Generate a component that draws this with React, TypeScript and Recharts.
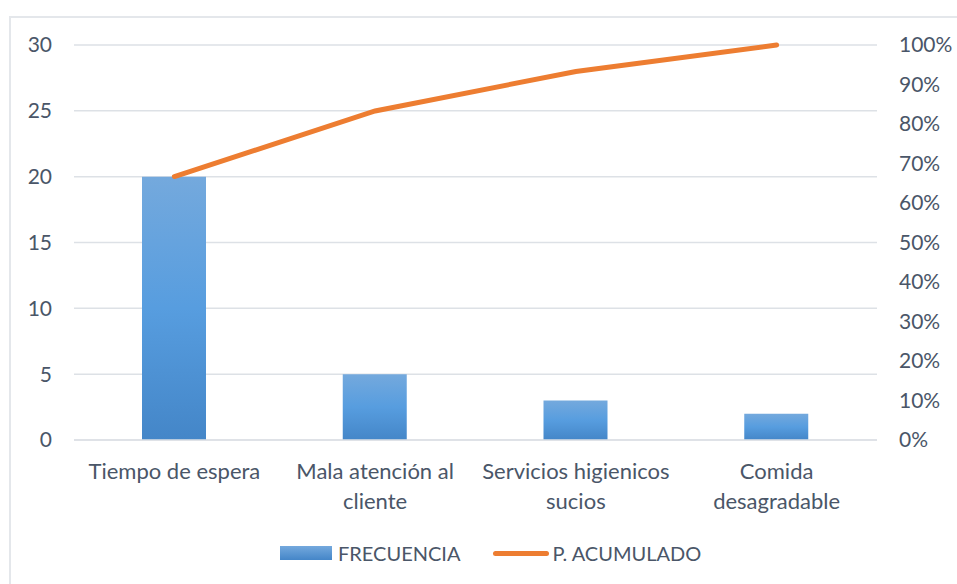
import React from "react";
import {
  ComposedChart,
  Bar,
  Line,
  XAxis,
  YAxis,
  CartesianGrid,
} from "recharts";

// Causas de insatisfacción (diagrama de Pareto)
const categories = [
  "Tiempo de espera",
  "Mala atención al cliente",
  "Servicios higienicos sucios",
  "Comida desagradable",
];

// Etiquetas tal como aparecen partidas en el eje X
const tickLines = [
  ["Tiempo de espera"],
  ["Mala atención al", "cliente"],
  ["Servicios higienicos", "sucios"],
  ["Comida", "desagradable"],
];

const frecuencia = [20, 5, 3, 2];
const acumulado = [66.7, 83.3, 93.3, 100];

const leftTicks = [0, 5, 10, 15, 20, 25, 30];
const rightTicks = [0, 10, 20, 30, 40, 50, 60, 70, 80, 90, 100];

const chartData = categories.map((name, i) => ({
  name,
  frecuencia: frecuencia[i],
  acumulado: acumulado[i],
}));

const FONT = "Lato, 'Open Sans', sans-serif";
const TEXT = "#4a5668";
const GRID = "#dde1e6";
const ORANGE = "#ed7d31";

const CategoryTick = (props: any) => {
  const { x, y, payload } = props;
  const lines = tickLines[payload.index] || [payload.value];
  return (
    <text
      x={x}
      y={y}
      textAnchor="middle"
      fill={TEXT}
      fontSize={22}
      fontFamily={FONT}
    >
      {lines.map((l: string, i: number) => (
        <tspan key={i} x={x} y={y + 31 + i * 30}>
          {l}
        </tspan>
      ))}
    </text>
  );
};

const App: React.FC = () => {
  return (
    <div
      style={{
        position: "relative",
        width: 957,
        height: 584,
        background: "#fff",
        overflow: "hidden",
        fontFamily: FONT,
      }}
    >
      <style>{`body{margin:0;overflow:hidden}`}</style>
      {/* borde del área del gráfico */}
      <div
        style={{
          position: "absolute",
          left: 9,
          top: 16,
          width: 1000,
          height: 700,
          border: `2px solid #e4e7eb`,
          boxSizing: "border-box",
        }}
      />
      <ComposedChart
        width={957}
        height={584}
        data={chartData}
        margin={{ top: 45, right: 0, bottom: 44, left: 0 }}
        style={{ position: "absolute", left: 0, top: 0 }}
      >
        <defs>
          <linearGradient id="barGrad" x1="0" y1="0" x2="0" y2="1">
            <stop offset="0%" stopColor="#74a9dd" />
            <stop offset="50%" stopColor="#579ddf" />
            <stop offset="100%" stopColor="#4486c8" />
          </linearGradient>
        </defs>
        <CartesianGrid
          yAxisId="left"
          vertical={false}
          stroke={GRID}
          strokeWidth={1.5}
        />
        <XAxis
          dataKey="name"
          height={100}
          axisLine={{ stroke: GRID, strokeWidth: 1.5 }}
          tickLine={false}
          tick={<CategoryTick />}
          interval={0}
        />
        <YAxis
          yAxisId="left"
          orientation="left"
          width={74}
          domain={[0, 30]}
          ticks={leftTicks}
          axisLine={false}
          tickLine={false}
          tickSize={0}
          tickMargin={22}
          tick={{ fill: TEXT, fontSize: 21, fontFamily: FONT }}
        />
        <YAxis
          yAxisId="right"
          orientation="right"
          width={80}
          domain={[0, 100]}
          ticks={rightTicks}
          axisLine={false}
          tickLine={false}
          tickSize={0}
          tickMargin={22}
          tickFormatter={(v) => `${v}%`}
          tick={{ fill: TEXT, fontSize: 21, fontFamily: FONT, textAnchor: "start" }}
        />
        <Bar
          yAxisId="left"
          dataKey="frecuencia"
          name="FRECUENCIA"
          fill="url(#barGrad)"
          barSize={64}
          isAnimationActive={false}
        />
        <Line
          yAxisId="right"
          dataKey="acumulado"
          name="P. ACUMULADO"
          type="linear"
          stroke={ORANGE}
          strokeWidth={5}
          strokeLinecap="round"
          dot={false}
          activeDot={false}
          isAnimationActive={false}
        />
      </ComposedChart>

      {/* leyenda */}
      <div
        style={{
          position: "absolute",
          top: 540,
          left: 280,
          display: "flex",
          alignItems: "center",
          fontSize: 20,
          color: TEXT,
          lineHeight: "26px",
        }}
      >
        <span
          style={{
            width: 52,
            height: 14,
            background: "linear-gradient(#74a9dd, #4486c8)",
            marginRight: 6,
          }}
        />
        <span style={{ marginRight: 33 }}>FRECUENCIA</span>
        <span
          style={{
            width: 56,
            height: 5,
            borderRadius: 3,
            background: ORANGE,
            marginRight: 3,
          }}
        />
        <span>P. ACUMULADO</span>
      </div>
    </div>
  );
};

export default App;
